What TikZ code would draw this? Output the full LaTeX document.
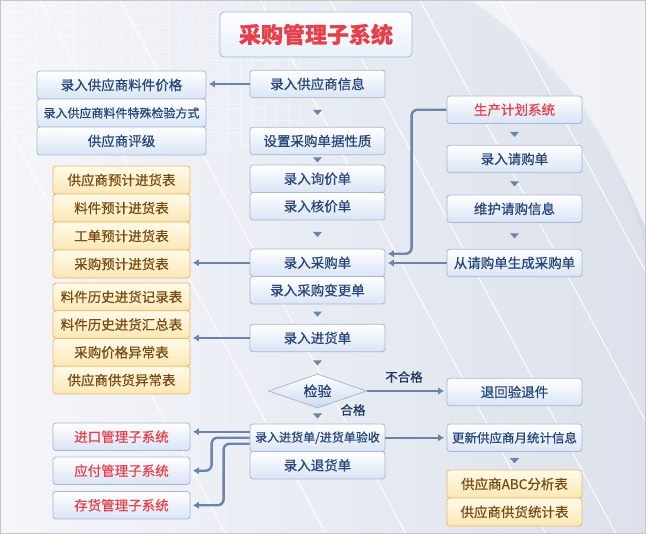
\documentclass[tikz,border=0pt]{standalone}
\usepackage{fontspec}
\newfontfamily\cjk[FakeBold=0.6]{Noto Sans CJK SC}
\usetikzlibrary{shapes.geometric,arrows.meta,calc}
\definecolor{txtblue}{HTML}{26467A}
\definecolor{boxline}{HTML}{A6B8D4}
\definecolor{boxbot}{HTML}{D9E4F5}
\definecolor{conncol}{HTML}{6A84AD}
\definecolor{orline}{HTML}{F0B764}
\definecolor{ortop}{HTML}{FFFBEA}
\definecolor{orbot}{HTML}{FBE7B5}
\definecolor{ortext}{HTML}{7B4C12}
\definecolor{redtxt}{HTML}{E6404A}
\definecolor{bgl}{HTML}{F4F6FA}
\definecolor{bgr}{HTML}{DCE1EB}
\newcommand\downtri[2]{\fill[conncol] ($(#1.south)!0.5!(#2.north)$) ++(-4.5,-2.5) -- ++(9,0) -- ++(-4.5,5) -- cycle;}
\begin{document}
\begin{tikzpicture}[x=1pt,y=-1pt,
  box/.style={draw=boxline, line width=0.8pt, top color=white, bottom color=boxbot, rounded corners=3pt,
    minimum width=135pt, minimum height=27.5pt, inner sep=0pt, text=txtblue, font=\cjk\fontsize{13.5}{15}\selectfont},
  obox/.style={box, draw=orline, top color=ortop, bottom color=orbot, text=ortext, minimum width=137pt},
  rbox/.style={box, text=redtxt, minimum width=137pt},
  conn/.style={draw=conncol, line width=2.4pt, -{Latex[length=6pt,width=7.5pt]}, shorten >=2.5pt},
  lbl/.style={text=txtblue!80!black, font=\cjk\fontsize{12.5}{14}\selectfont, inner sep=0pt}]
\useasboundingbox (0,0) rectangle (646,534);
% background
\fill[left color=bgl, right color=bgr] (0,0) rectangle (646,534);
\begin{scope}
\clip (0,0) rectangle (646,534);
\fill[white, opacity=0.55] (455,0) .. controls (560,60) and (610,140) .. (646,230) -- (646,0) -- cycle;
\fill[bgr!85!conncol, opacity=0.35] (470,0) .. controls (575,70) and (620,150) .. (646,250) -- (646,230) .. controls (610,140) and (560,60) .. (455,0) -- cycle;
\foreach \x in {-60,40,120,260,330,420,500} {
  \draw[white, line width=1.2pt, opacity=0.8] (\x,0) -- ++(300,560);
}
\foreach \x in {0,12,...,300} {\draw[white, opacity=0.3, line width=0.5pt] (\x,0) -- (\x,150);}
\foreach \y in {0,12,...,150} {\draw[white, opacity=0.3, line width=0.5pt] (0,\y) -- (300,\y);}
\end{scope}
\draw[gray!45, line width=0.8pt] (0.4,0.4) rectangle (645.6,533.6);

% title
\node[box, minimum width=192pt, minimum height=45pt, bottom color=boxbot!60, rounded corners=4pt, text=redtxt,
  font=\cjk\fontsize{22}{24}\selectfont\bfseries] (title) at (316,34.5) {采购管理子系统};

% centre column
\node[box] (c1) at (317.5,84) {录入供应商信息};
\node[box] (c2) at (317.5,141) {设置采购单据性质};
\node[box] (c3) at (317.5,178.75) {录入询价单};
\node[box] (c4) at (317.5,206.25) {录入核价单};
\node[box] (c5) at (317.5,262.75) {录入采购单};
\node[box] (c6) at (317.5,290.25) {录入采购变更单};
\node[box] (c7) at (317.5,338) {录入进货单};
\node[diamond, draw=boxline, line width=0.8pt, top color=white, bottom color=boxbot!90!conncol, aspect=3,
  minimum width=98pt, minimum height=34pt, inner sep=0pt, text=txtblue,
  font=\cjk\fontsize{14}{16}\selectfont] (dia) at (317.5,391) {检验};
\node[box, font=\cjk\fontsize{12}{14}\selectfont] (c8) at (317.5,437.75) {录入进货单/进货单验收};
\node[box] (c9) at (317.5,465.25) {录入退货单};

% left blue group
\node[box, minimum width=169pt, minimum height=28pt] (l1) at (121.5,85) {录入供应商料件价格};
\node[box, minimum width=169pt, minimum height=28pt, font=\cjk\fontsize{12}{14}\selectfont] (l2) at (121.5,113) {录入供应商料件特殊检验方式};
\node[box, minimum width=169pt, minimum height=28pt] (l3) at (121.5,141) {供应商评级};

% orange group 1
\node[obox, minimum height=28pt] (o1) at (121.5,180) {供应商预计进货表};
\node[obox, minimum height=28pt] (o2) at (121.5,208) {料件预计进货表};
\node[obox, minimum height=28pt] (o3) at (121.5,236) {工单预计进货表};
\node[obox, minimum height=28pt] (o4) at (121.5,264) {采购预计进货表};
% orange group 2
\node[obox, minimum height=27.75pt] (h1) at (121.5,296.9) {料件历史进货记录表};
\node[obox, minimum height=27.75pt] (h2) at (121.5,324.6) {料件历史进货汇总表};
\node[obox, minimum height=27.75pt] (h3) at (121.5,352.4) {采购价格异常表};
\node[obox, minimum height=27.75pt] (h4) at (121.5,380.1) {供应商供货异常表};

% red boxes
\node[rbox] (s1) at (121.5,436.75) {进口管理子系统};
\node[rbox] (s2) at (121.5,470.75) {应付管理子系统};
\node[rbox] (s3) at (121.5,505.25) {存货管理子系统};

% right column
\node[box, text=redtxt] (r1) at (514.5,109.75) {生产计划系统};
\node[box] (r2) at (514.5,159) {录入请购单};
\node[box] (r3) at (514.5,208.75) {维护请购信息};
\node[box] (r4) at (514.5,263) {从请购单生成采购单};
\node[box] (r5) at (514.5,392) {退回验退件};
\node[box, font=\cjk\fontsize{12.5}{14}\selectfont] (r6) at (514.5,437.75) {更新供应商月统计信息};
\node[obox, minimum width=135pt, minimum height=28pt] (r7) at (514.5,484) {供应商ABC分析表};
\node[obox, minimum width=135pt, minimum height=28pt] (r8) at (514.5,512) {供应商供货统计表};

% small flow markers
\downtri{c1}{c2}
\downtri{c2}{c3}
\downtri{c4}{c5}
\downtri{c6}{c7}
\downtri{c7}{dia}
\downtri{dia}{c8}
\downtri{r1}{r2}
\downtri{r2}{r3}
\downtri{r3}{r4}
\downtri{r6}{r7}

% connectors
\draw[conn] (c1.west) -- (c1.west -| l1.east);
\draw[conn, rounded corners=6pt] (r1.west) -- ++(-35,0) |- ([yshift=9pt]c5.east);
\draw[conn] (r4.west) -- (r4.west -| c5.east);
\draw[conn] (c5.west) -- (c5.west -| o4.east);
\draw[conn] (c7.west) -- (c7.west -| h3.east);
\draw[conn] (dia.east) -- (dia.east -| r5.west);
\draw[conn] (c8.east) -- (c8.east -| r6.west);
\draw[conn] ([yshift=6pt]c8.west) -- ([yshift=6pt]c8.west -| s1.east);
\draw[conn, rounded corners=6pt] (c8.west) -- ++(-38,0) |- (s2.east);
\draw[conn, rounded corners=6pt] ([yshift=-6pt]c8.west) -- ++(-26,0) |- (s3.east);

% labels
\node[lbl] (ng) at (404,377) {不合格};
\node[lbl] (ok) at (353,410) {合格};
\end{tikzpicture}
\end{document}
